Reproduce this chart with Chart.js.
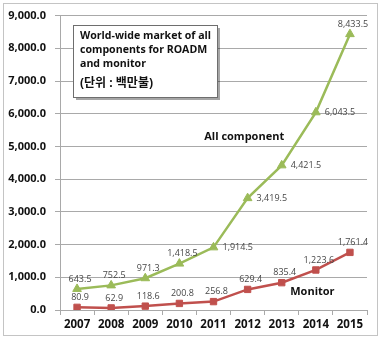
<!DOCTYPE html>
<html>
<head>
<meta charset="utf-8">
<script src="https://cdn.jsdelivr.net/npm/chart.js@4/dist/chart.umd.min.js"></script>
<style>
  body { margin: 0; background: #fff; }
  canvas { display: block; }
</style>
</head>
<body>
<canvas id="marketChart" width="382" height="343"></canvas>
<script>
var years = ['2007', '2008', '2009', '2010', '2011', '2012', '2013', '2014', '2015']
var allComponent = [643.5, 752.5, 971.3, 1418.5, 1914.5, 3419.5, 4421.5, 6043.5, 8433.5]
var monitor = [80.9, 62.9, 118.6, 200.8, 256.8, 629.4, 835.4, 1223.6, 1761.4]
var yTicks = [0, 1000, 2000, 3000, 4000, 5000, 6000, 7000, 8000, 9000]
var titleLines = ['World-wide market of all', 'components for ROADM', 'and monitor', '(단위 : 백만불)']

var FONT = "'Open Sans', 'Noto Sans CJK KR', sans-serif"
var GRID = '#a9a9a9'

function fmt(v) {
  return v.toLocaleString('en-US', { minimumFractionDigits: 1, maximumFractionDigits: 1 })
}

// where each value label sits relative to its point
var labelPlace = [
  ['top', 'top', 'top', 'top', 'right', 'right', 'right', 'right', 'top'],
  ['top', 'top', 'top', 'top', 'top', 'top', 'top', 'top', 'top']
]

var decorations = {
  id: 'decorations',
  beforeDraw: function(chart) {
    var ctx = chart.ctx
    ctx.save()
    ctx.fillStyle = '#fff'
    ctx.fillRect(0, 0, chart.width, chart.height)
    ctx.strokeStyle = '#c4c4c4'
    ctx.lineWidth = 1
    ctx.strokeRect(3.5, 3.5, 374, 332)
    ctx.restore()
  },
  afterDatasetsDraw: function(chart) {
    var ctx = chart.ctx
    var xs = chart.scales.x, ys = chart.scales.y
    ctx.save()

    // value labels
    ctx.font = '9px ' + FONT
    ctx.fillStyle = '#474747'
    chart.data.datasets.forEach(function(ds, di) {
      chart.getDatasetMeta(di).data.forEach(function(pt, i) {
        var txt = fmt(ds.data[i])
        if (labelPlace[di][i] === 'right') {
          ctx.textAlign = 'left'
          ctx.textBaseline = 'middle'
          ctx.fillText(txt, pt.x + 9, pt.y)
        } else {
          ctx.textAlign = 'center'
          ctx.textBaseline = 'middle'
          ctx.fillText(txt, pt.x + 3, pt.y - 10)
        }
      })
    })

    // series names
    ctx.font = 'bold 11px ' + FONT
    ctx.fillStyle = '#111'
    ctx.textAlign = 'center'
    ctx.fillText('All component', xs.getPixelForValue(4.9), ys.getPixelForValue(5300))
    ctx.fillText('Monitor', xs.getPixelForValue(6.9), ys.getPixelForValue(550))

    // title box
    var bx = 73, by = 25, bw = 144, bh = 72
    ctx.fillStyle = 'rgba(0,0,0,0.35)'
    ctx.fillRect(bx + 3, by + 3, bw, bh)
    ctx.fillStyle = '#fff'
    ctx.fillRect(bx, by, bw, bh)
    ctx.strokeStyle = '#6e6e6e'
    ctx.lineWidth = 1
    ctx.strokeRect(bx + 0.5, by + 0.5, bw, bh)
    ctx.fillStyle = '#111'
    ctx.textAlign = 'left'
    ctx.font = 'bold 10.6px ' + FONT
    ctx.fillText(titleLines[0], 80, 36)
    ctx.fillText(titleLines[1], 80, 50)
    ctx.fillText(titleLines[2], 80, 64)
    ctx.font = 'bold 12px ' + FONT
    ctx.fillText(titleLines[3], 80, 84)
    ctx.restore()
  }
}

new Chart(document.getElementById('marketChart').getContext('2d'), {
  type: 'line',
  data: {
    labels: years,
    datasets: [{
      label: 'All component',
      data: allComponent,
      borderColor: '#9bbb59',
      backgroundColor: '#9bbb59',
      borderWidth: 2.5,
      pointStyle: 'triangle',
      pointRadius: 5,
      pointBorderWidth: 1,
      lineTension: 0,
      fill: false
    }, {
      label: 'Monitor',
      data: monitor,
      borderColor: '#c0504d',
      backgroundColor: '#c0504d',
      borderWidth: 2.5,
      pointStyle: 'rect',
      pointRadius: 4.5,
      pointBorderWidth: 1,
      lineTension: 0,
      fill: false
    }]
  },
  options: {
    responsive: false,
    animation: false,
    devicePixelRatio: 1,
    layout: { padding: { top: 15, right: 15, bottom: 5, left: 0 } },
    plugins: { legend: { display: false }, tooltip: { enabled: false } },
    scales: {
      x: {
        offset: true,
        afterFit: function(s) { s.height = 28 },
        grid: { offset: true, drawOnChartArea: false, tickLength: 5, color: GRID },
        border: { color: GRID },
        ticks: { color: '#111', padding: 3, font: { family: FONT, size: 11.5, weight: 'bold' } }
      },
      y: {
        min: 0,
        max: 9000,
        afterFit: function(s) { s.width = 60 },
        afterBuildTicks: function(s) { s.ticks = yTicks.map(function(v) { return { value: v } }) },
        grid: { color: GRID, tickLength: 5 },
        border: { color: GRID },
        ticks: {
          color: '#111',
          padding: 9,
          font: { family: FONT, size: 11, weight: 'bold' },
          callback: function(v) { return fmt(v) }
        }
      }
    }
  },
  plugins: [decorations]
})
</script>
</body>
</html>
